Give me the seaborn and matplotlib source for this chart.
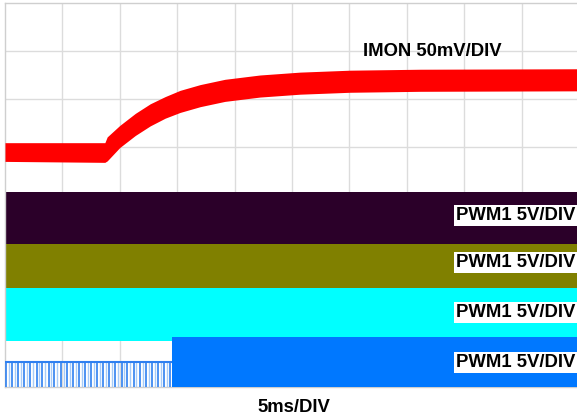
import numpy as np
import matplotlib
matplotlib.use("Agg")
import matplotlib.pyplot as plt
import seaborn as sns

# IMON trace envelope (x in divisions, y in divisions)
imon_x = [0.0, 1.74, 1.78, 2.00, 2.27, 2.53, 2.79, 3.05, 3.40, 3.83, 4.44, 5.14, 6.01, 7.23, 10.0]
imon_top = [5.09, 5.09, 5.21, 5.45, 5.70, 5.90, 6.05, 6.18, 6.30, 6.41, 6.50, 6.56, 6.60, 6.62, 6.63]
imon_bot = [4.70, 4.68, 4.71, 4.99, 5.24, 5.44, 5.60, 5.72, 5.84, 5.95, 6.04, 6.10, 6.14, 6.16, 6.17]

# PWM channel bands (bottom, top) in divisions
bands = [(2.98, 4.06, "#2b0029"), (2.06, 2.98, "#808000"), (0.96, 2.06, "#00ffff")]
pwm_labels = ["PWM1 5V/DIV", "PWM1 5V/DIV", "PWM1 5V/DIV", "PWM1 5V/DIV"]
label_y = [3.58, 2.60, 1.55, 0.51]

# fourth channel: pulses before switching turns fully on
pwm_edges = [0.02, 0.12, 0.23, 0.33, 0.44, 0.55, 0.65, 0.76, 0.86, 0.97, 1.08, 1.18, 1.29, 1.39,
             1.50, 1.60, 1.71, 1.82, 1.92, 2.03, 2.13, 2.24, 2.35, 2.45, 2.56, 2.66, 2.77, 2.87]
pwm_level = 0.52
pwm_on = 2.91
pwm_on_top = 1.04

sns.set_style("white")
plt.rcParams['font.family'] = ['Liberation Sans', 'DejaVu Sans']
plt.rcParams['text.color'] = 'black'

fig = plt.figure(figsize=(5.77, 4.20), dpi=100)
ax = fig.add_axes([5/577, 33/420, 574/577, 384/420])
ax.set_xlim(0, 10)
ax.set_ylim(0, 8)

for v in range(1, 10):
    ax.axvline(v, color="#dcdcdc", lw=1, zorder=0)
for h in range(1, 8):
    ax.axhline(h, color="#dcdcdc", lw=1, zorder=0)

ax.fill_between(imon_x, imon_bot, imon_top, color="#ff0000", lw=0, zorder=3)

for lo, hi, c in bands:
    ax.axhspan(lo, hi, color=c, lw=0, zorder=2)
ax.axhspan(1.0, 1.04, xmin=pwm_on / 10, color="#00ffff", lw=0, zorder=2)

# pulses
ax.vlines(pwm_edges, 0, pwm_level, color="#2f80f0", lw=1.2, zorder=3)
ax.vlines([e + 0.05 for e in pwm_edges], 0, pwm_level, color="#a8ccf8", lw=1, zorder=3)
sns.lineplot(x=[0, pwm_on], y=[pwm_level, pwm_level], color="#2f80f0", lw=1.5, ax=ax, zorder=3)
ax.fill_between([pwm_on, 10], 0, pwm_on_top, color="#0078ff", lw=0, zorder=3)

ax.set_xticks([])
ax.set_yticks([])
for s in ["left", "top", "bottom"]:
    ax.spines[s].set_color("#cfcfcf")
    ax.spines[s].set_linewidth(1)
ax.spines["right"].set_visible(False)

ax.text(6.24, 7.0, "IMON 50mV/DIV", fontsize=13.3, fontweight="bold", color="black",
        ha="left", va="center", zorder=5)
for lab, y in zip(pwm_labels, label_y):
    ax.text(9.93, y, lab, fontsize=13.3, fontweight="bold", color="black", ha="right", va="center",
            zorder=5, bbox=dict(facecolor="white", edgecolor="none", pad=1.5))

fig.text(294/577, 1 - 407/420, "5ms/DIV", fontsize=13.3, fontweight="bold", color="black",
         ha="center", va="center")

fig.savefig("out.png", dpi=100)
